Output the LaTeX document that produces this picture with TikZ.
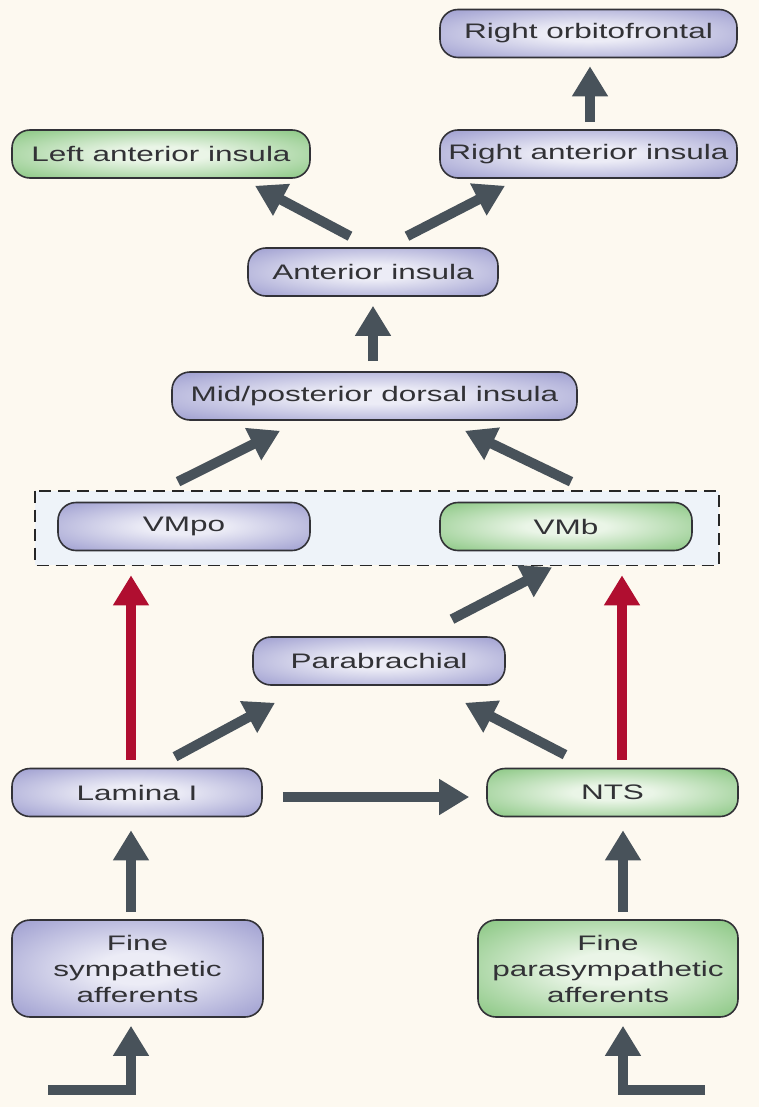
\documentclass[tikz,border=0pt]{standalone}
\usepackage{fontspec}
\setmainfont{Liberation Sans}[FakeStretch=1.5]
\usetikzlibrary{arrows.meta}
\usetikzlibrary{calc}
\usetikzlibrary{backgrounds}
\definecolor{paper}{RGB}{253,249,240}
\definecolor{boxfill}{RGB}{238,243,249}
\definecolor{lavcore}{RGB}{236,236,246}
\definecolor{lavdark}{RGB}{150,150,204}
\definecolor{grncore}{RGB}{234,245,231}
\definecolor{grndark}{RGB}{128,194,120}
\definecolor{edgegray}{RGB}{50,50,55}
\definecolor{textgray}{RGB}{50,50,54}
\definecolor{arrowgray}{RGB}{72,82,90}
\definecolor{arrowred}{RGB}{176,14,48}
\pgfdeclareradialshading{lavglow}{\pgfpoint{0bp}{0bp}}{color(0bp)=(lavcore); color(8bp)=(lavcore); color(38bp)=(lavdark); color(70bp)=(lavdark)}
\pgfdeclareradialshading{grnglow}{\pgfpoint{0bp}{0bp}}{color(0bp)=(grncore); color(8bp)=(grncore); color(38bp)=(grndark); color(70bp)=(grndark)}
\tikzset{
  every picture/.style={font=\fontsize{10.5}{13}\selectfont, x=0.5pt, y=-0.5pt}}

\begin{document}
\begin{tikzpicture}[
    area/.style={draw=edgegray, line width=0.8pt, rounded corners=9pt, align=center,
      text=textgray, inner sep=0pt, minimum height=24pt},
    bluearea/.style={area, shading=lavglow},
    greenarea/.style={area, shading=grnglow},
    flow/.style={draw=arrowgray, line width=5pt, line join=miter,
      -{Triangle[length=15pt, width=17pt]}},
    redflow/.style={flow, draw=arrowred},
    dashbox/.style={draw=black!85, fill=boxfill, line width=0.8pt, dash pattern=on 6pt off 3.5pt}]

    \useasboundingbox (0,0) rectangle (759,1107);

    \begin{scope}
      \node[bluearea, minimum width=148.5pt] (ROF) at (588.5,33.5) {Right orbitofrontal};
      \node[greenarea, minimum width=149pt] (LAI) at (161,154) {Left anterior insula};
      \node[bluearea, minimum width=148.5pt] (RAI) at (588.5,154) {Right anterior insula};
      \node[bluearea, minimum width=125pt] (AI) at (373,272) {Anterior insula};
      \node[bluearea, minimum width=202.5pt] (MPI) at (374.5,396) {Mid/posterior dorsal insula};
    \end{scope}

    \begin{scope}
      \node[bluearea, minimum width=126pt] (VMPO) at (184,526.5) {VMpo};
      \node[greenarea, minimum width=126pt] (VMB) at (566,526.5) {VMb};
      \node[bluearea, minimum width=126pt] (PB) at (379,661) {Parabrachial};
      \node[bluearea, minimum width=125pt] (LAM) at (137,792.5) {Lamina I};
      \node[greenarea, minimum width=125.5pt] (NTS) at (612.5,792.5) {NTS};
    \end{scope}

    \begin{scope}
      \node[bluearea, minimum width=125.5pt, minimum height=48.5pt] (FS) at (137.5,968.5) {Fine\\sympathetic\\afferents};
      \node[greenarea, minimum width=130pt, minimum height=48.5pt] (FP) at (608,968.5) {Fine\\parasympathetic\\afferents};
    \end{scope}

    \coordinate (INL) at (48,1090);
    \coordinate (INR) at (705,1090);

    \begin{scope}[on background layer]
      \fill[paper] (0,0) rectangle (759,1107);
      \draw[dashbox] ($(VMPO.north west)+(-22,-11)$) rectangle ($(VMB.south east)+(26,14)$);
    \end{scope}

    \draw[flow] ($(RAI.north)+(1.5,-7)$) -- ($(ROF.south)+(1.5,8)$);
    \draw[flow] ($(AI.north)+(-23,-11)$) -- ($(LAI.south)+(94,7)$);
    \draw[flow] ($(AI.north)+(34,-11)$) -- ($(RAI.south)+(-83.5,7)$);
    \draw[flow] ($(MPI.north)+(-1.5,-10)$) -- ($(AI.south)+(0,9)$);
    \draw[flow] ($(VMPO.north)+(-6,-20)$) -- ($(MPI.south)+(-94.5,10)$);
    \draw[flow] ($(VMB.north)+(5,-20)$) -- ($(MPI.south)+(90.5,10)$);

    \draw[redflow] ($(LAM.north)+(-6,-8)$) -- ($(VMPO.south)+(-53,24)$);
    \draw[redflow] ($(NTS.north)+(9.5,-8)$) -- ($(VMB.south)+(56,24)$);

    \draw[flow] ($(LAM.north)+(38,-11)$) -- ($(PB.south)+(-104,17)$);
    \draw[flow] ($(NTS.north)+(-47.5,-13)$) -- ($(PB.south)+(86,17)$);
    \draw[flow] ($(PB.north)+(73,-17)$) -- ($(VMB.south)+(-14,16)$);
    \draw[flow] ($(LAM.east)+(20,4.5)$) -- ($(NTS.west)+(-17,4.5)$);

    \draw[flow] ($(FS.north)+(-6.5,-7)$) -- ($(LAM.south)+(-6,13)$);
    \draw[flow] ($(FP.north)+(15,-7)$) -- ($(NTS.south)+(10.5,13)$);
    \draw[flow] (INL) -| ($(FS.south)+(-6.5,8)$);
    \draw[flow] (INR) -| ($(FP.south)+(15,8)$);
  \end{tikzpicture}
\end{document}
